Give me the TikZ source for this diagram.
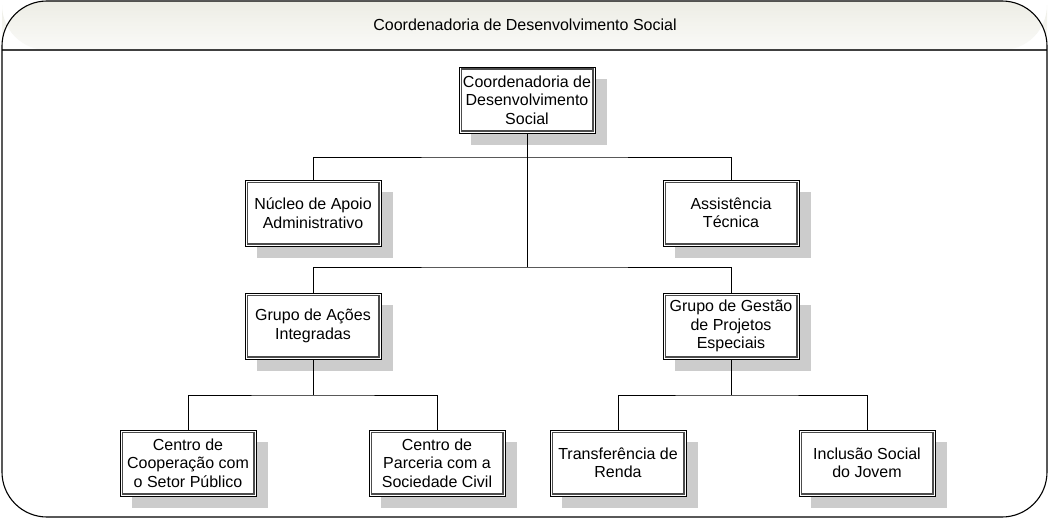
\documentclass[tikz,border=0pt]{standalone}
\usepackage{fontspec}
\setmainfont{Liberation Sans}
\definecolor{shadowgray}{HTML}{CCCCCC}
\definecolor{headtop}{HTML}{EDEDE5}
\definecolor{headbot}{HTML}{FAFAF8}
\newcommand\obox[4]{%
  \fill[shadowgray] ({#2-56},{#3-21}) rectangle ({#2+80},{#3+45});
  \node[orgbox] (#1) at (#2,#3) {#4};
  \draw[innerline] ([shift={(2.6,2.6)}]#1.north west) rectangle ([shift={(-2.6,-2.6)}]#1.south east);
}
\begin{document}
\begin{tikzpicture}[x=1pt,y=-1pt,
  orgbox/.style={draw=black, line width=0.9pt,
    fill=white, minimum width=136pt, minimum height=66pt, align=center,
    inner sep=2pt, font=\fontsize{16}{18.5}\selectfont},
  innerline/.style={draw=black!70, line width=1.3pt},
  conn/.style={draw=black, line width=0.9pt}]
\useasboundingbox (0,0) rectangle (1050,519);
% frame
\fill[white, rounded corners=45pt] (2,1) rectangle (1047,517);
\shade[top color=headtop, bottom color=headbot, rounded corners=45pt]
  (2,50) -- (2,1) -- (1047,1) -- (1047,50) -- cycle;
\draw[line width=1.6pt, black!75] (2,50) -- (1047,50);
\draw[line width=1.1pt, rounded corners=45pt] (2,1) rectangle (1047,517);
\node[font=\fontsize{16}{18}\selectfont] (title) at (525,25) {Coordenadoria de Desenvolvimento Social};
% bus coordinates
\coordinate (bus1) at (0,157);
\coordinate (bus2) at (0,267);
\coordinate (bus3) at (0,395);
% boxes
\obox{top}{527}{100}{Coordenadoria de\\Desenvolvimento\\Social}
\obox{nuc}{313}{213}{Núcleo de Apoio\\Administrativo}
\obox{ast}{731}{213}{Assistência\\Técnica}
\obox{ga}{313}{326}{Grupo de Ações\\Integradas}
\obox{gg}{731}{326}{Grupo de Gestão\\de Projetos\\Especiais}
\obox{cc}{188}{463}{Centro de\\Cooperação com\\o Setor Público}
\obox{cp}{437}{463}{Centro de\\Parceria com a\\Sociedade Civil}
\obox{tr}{618}{463}{Transferência de\\Renda}
\obox{is}{867}{463}{Inclusão Social\\do Jovem}
% connectors
\draw[conn] (top.south) -- (bus2 -| top.south);
\draw[conn] (nuc.north) |- (bus1 -| top.south) -| (ast.north);
\draw[conn] (ga.north) |- (bus2 -| top.south) -| (gg.north);
\draw[conn] (ga.south) -- (bus3 -| ga.south);
\draw[conn] (cc.north) |- (bus3 -| ga.south) -| (cp.north);
\draw[conn] (gg.south) -- (bus3 -| gg.south);
\draw[conn] (tr.north) |- (bus3 -| gg.south) -| (is.north);
\end{tikzpicture}
\end{document}
